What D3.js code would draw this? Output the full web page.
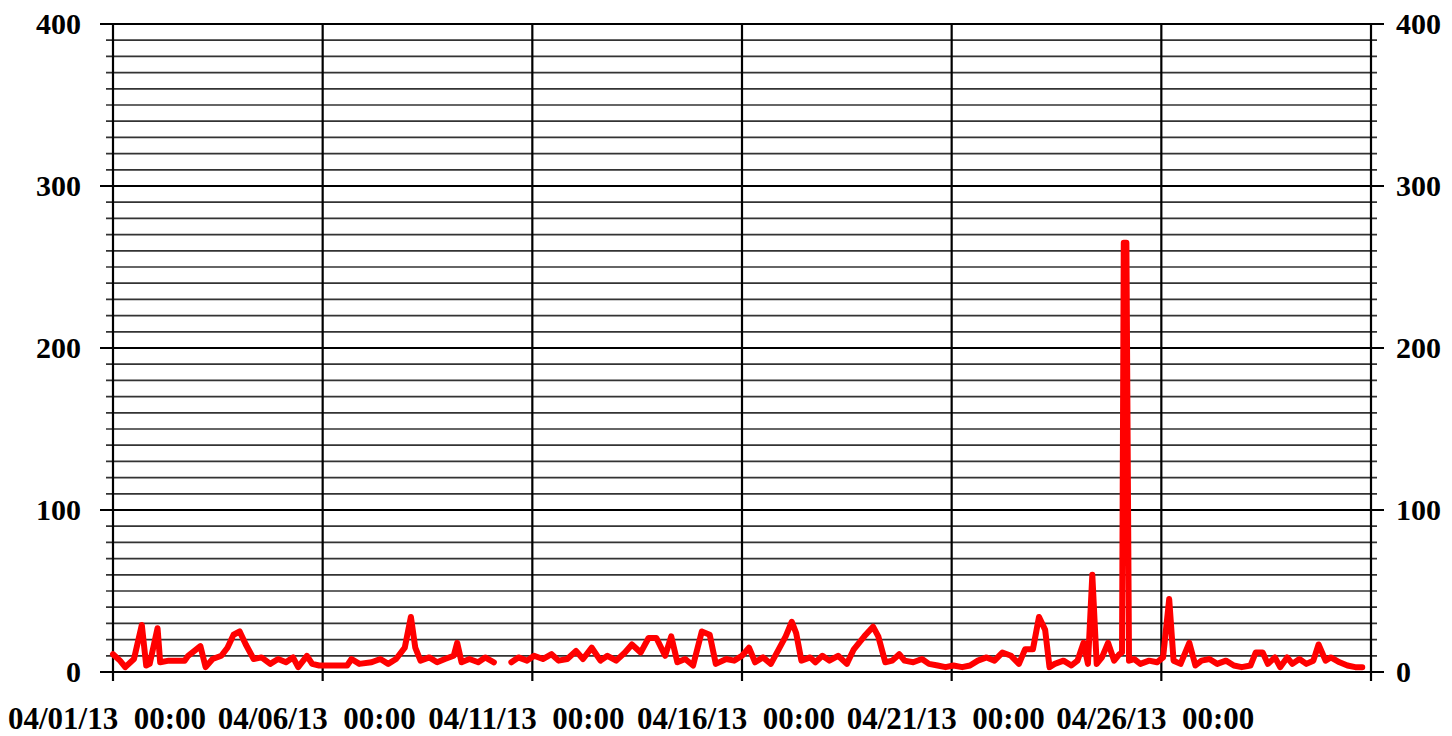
<!DOCTYPE html>
<html>
<head>
<meta charset="utf-8">
<script src="https://cdn.jsdelivr.net/npm/d3@7"></script>
<style>
  body { margin: 0; background: #fff; }
  text { font-family: "Liberation Serif", "Times New Roman", serif; font-weight: bold; }
</style>
</head>
<body>
<script>
let width = 1452;
let height = 736;

// hours after 04/01/13 00:00 and the value read at that time
let hours = [0, 4, 7, 12, 16.5, 19, 21, 25.5, 27, 32, 41, 43, 50, 53, 57, 62, 65.5, 69, 72.5, 76, 80.5, 85, 90, 94.5, 99, 103, 106, 111, 114, 118,
  121, 134, 136.5, 141, 148, 153, 157.5, 162, 167, 170.5, 173, 176, 181, 185.5, 190, 195, 197, 199.5, 204, 209, 213, 218, 224,
  228, 232, 237, 241, 246, 251, 255, 260, 265, 269, 274, 279, 283, 288, 293, 297, 302, 306.5, 311, 316, 319.5, 323, 327.5, 332, 337, 341.5, 345, 351, 355.5,
  360, 364, 367.5, 372, 376.5, 381, 385, 388.5, 391, 394, 399, 402, 406, 410, 415, 420, 424, 430, 435, 438, 442, 446, 450, 453, 458, 463, 467, 472, 476.5,
  481, 486, 490.5, 495, 500, 504.5, 509, 514, 518.5, 522, 526.5, 530, 533.5, 536, 539, 544, 548.5, 552, 555.5, 558, 560.5, 563, 566, 569.5, 573, 576,
  577.5, 578.5, 580, 581.5, 584.5, 588, 593, 597.5, 601, 604.5, 607, 611, 616, 619.5, 623, 627.5, 632, 637, 641.5, 646, 651, 654, 658, 661, 665, 668, 672,
  675, 679, 683, 687, 690, 694, 697, 702, 706.5, 711, 715];
let values = [11, 7, 3, 8, 29, 4, 5, 27, 6, 7, 7, 10, 16, 3, 8, 10, 15, 23, 25, 17, 8, 9, 5, 8, 6, 9, 3, 10, 5, 4,
  4, 4, 8, 5, 6, 8, 5, 8, 15, 34, 15, 7, 9, 6, 8, 10, 18, 6, 8, 6, 9, 6, null,
  6, 9, 7, 10, 8, 11, 7, 8, 13, 8, 15, 7, 10, 7, 12, 17, 12, 21, 21, 10, 22, 6, 8, 4, 25, 23, 5, 8, 7,
  10, 15, 6, 9, 5, 14, 22, 31, 24, 7, 9, 6, 10, 7, 10, 5, 14, 22, 28, 22, 6, 7, 11, 7, 6, 8, 5, 4, 3,
  4, 3, 4, 7, 9, 7, 12, 10, 5, 14, 14, 34, 26, 3, 5, 7, 4, 7, 18, 5, 60, 5, 9, 18, 7, 11,
  12, 265, 265, 7, 8, 5, 7, 6, 9, 45, 7, 5, 18, 4, 7, 8, 5, 7, 4, 3, 4, 12, 12, 5, 9, 3, 9,
  5, 8, 5, 7, 17, 7, 9, 6, 4, 3, 3];

let tickLabels = ["04/01/13  00:00", "04/06/13  00:00", "04/11/13  00:00", "04/16/13  00:00", "04/21/13  00:00", "04/26/13  00:00"];
let yLabels = [0, 100, 200, 300, 400];

let start = new Date(Date.UTC(2013, 3, 1));
let end = new Date(Date.UTC(2013, 4, 1));
let points = hours.map(function(h, i) {
  return { t: d3.utcMinute.offset(start, Math.round(h * 60)), v: values[i] };
});

let svg = d3.select("body")
            .append("svg")
            .attr("width", width)
            .attr("height", height)
            .style("background", "#fff");

let x = d3.scaleUtc().domain([start, end]).range([113, 1371]);
let y = d3.scaleLinear().domain([0, 400]).range([672, 24]);

let minor = d3.range(0, 401, 10);
let majorDays = d3.utcDay.every(5).range(start, end);

// horizontal grid, minor every 10
svg.append("g")
  .selectAll("line")
  .data(minor)
  .enter()
  .append("line")
  .attr("x1", function(d) { return d % 100 === 0 ? 100 : 106 })
  .attr("x2", function(d) { return d % 100 === 0 ? 1384 : 1377 })
  .attr("y1", function(d) { return y(d) })
  .attr("y2", function(d) { return y(d) })
  .attr("stroke", function(d) { return d % 100 === 0 ? "#000" : "#333" })
  .attr("stroke-width", function(d) { return d % 100 === 0 ? 2.2 : 1.7 });

// vertical grid every 5 days plus the two axes
svg.append("g")
  .selectAll("line")
  .data(majorDays.concat([end]))
  .enter()
  .append("line")
  .attr("x1", function(d) { return x(d) })
  .attr("x2", function(d) { return x(d) })
  .attr("y1", y(400))
  .attr("y2", 681)
  .attr("stroke", "#000")
  .attr("stroke-width", 2.2);

// data line
let line = d3.line()
  .defined(function(d) { return d.v !== null })
  .x(function(d) { return x(d.t) })
  .y(function(d) { return y(d.v) });

svg.append("path")
  .datum(points)
  .attr("d", line)
  .attr("fill", "none")
  .attr("stroke", "#ff0000")
  .attr("stroke-width", 6)
  .attr("stroke-linejoin", "round")
  .attr("stroke-linecap", "round");

// y labels both sides
svg.append("g")
  .selectAll("text")
  .data(yLabels)
  .enter()
  .append("text")
  .attr("x", 81)
  .attr("y", function(d) { return y(d) + 10 })
  .attr("text-anchor", "end")
  .attr("font-size", 30)
  .text(function(d) { return d });

svg.append("g")
  .selectAll("text")
  .data(yLabels)
  .enter()
  .append("text")
  .attr("x", 1396)
  .attr("y", function(d) { return y(d) + 10 })
  .attr("text-anchor", "start")
  .attr("font-size", 30)
  .text(function(d) { return d });

// x labels
svg.append("g")
  .selectAll("text")
  .data(majorDays)
  .enter()
  .append("text")
  .attr("x", function(d) { return x(d) - 6 })
  .attr("y", 729)
  .attr("text-anchor", "middle")
  .attr("font-size", 31)
  .style("white-space", "pre")
  .text(function(d, i) { return tickLabels[i] });
</script>
</body>
</html>
